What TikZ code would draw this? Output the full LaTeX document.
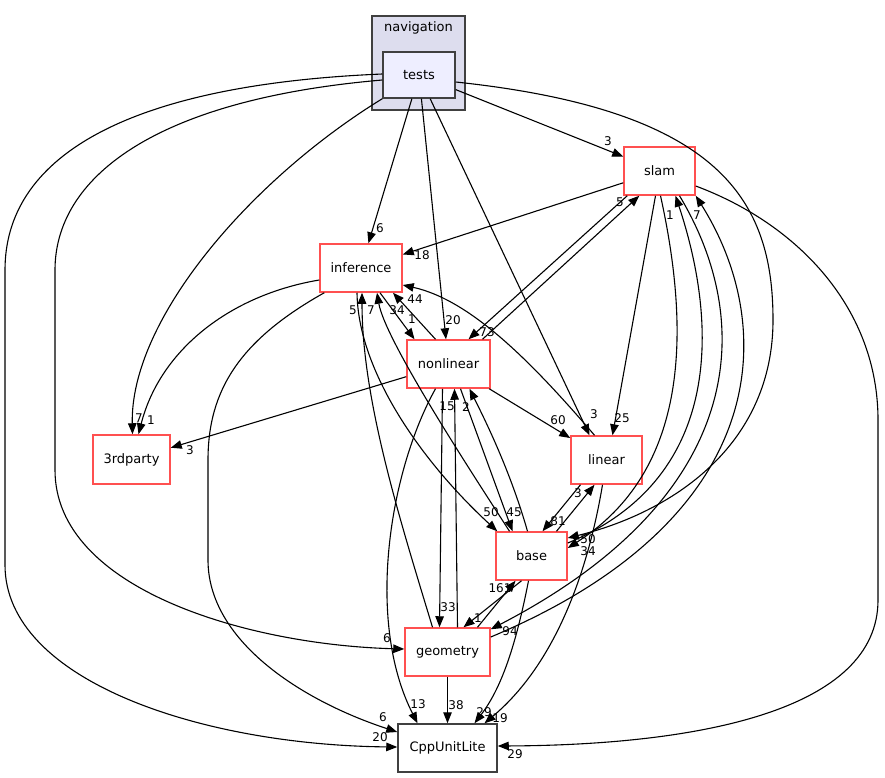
\documentclass[tikz,border=0pt]{standalone}
\usepackage{fontspec}
\setmainfont{DejaVu Sans}
\usetikzlibrary{arrows.meta}

\definecolor{dirred}{RGB}{255,80,80}
\definecolor{navfill}{RGB}{221,221,238}
\definecolor{testfill}{RGB}{238,238,255}
\definecolor{darkframe}{RGB}{64,64,64}

\tikzset{
  dirbox/.style={rectangle, draw=dirred, line width=1.5pt, fill=white, inner sep=0pt,
    minimum height=48pt, font=\fontsize{13}{15}\selectfont},
  plainbox/.style={dirbox, draw=darkframe},
  testbox/.style={dirbox, draw=darkframe, fill=testfill},
  clusterbox/.style={rectangle, draw=darkframe, line width=1.6pt, fill=navfill, inner sep=0pt},
  cnt/.style={inner sep=0pt, font=\fontsize{12}{14}\selectfont},
  dep/.style={-{Triangle[length=11pt,width=8.5pt]}, line width=1.1pt},
}

\begin{document}
\begin{tikzpicture}[x=1pt,y=-1pt]
      \useasboundingbox (0,0) rectangle (885,777);
      \node[clusterbox, minimum width=93pt, minimum height=94pt] (navigation) at (418.5,63) {};
      \node[font=\fontsize{13}{15}\selectfont] (navtitle) at (418.5,28) {navigation};
      \node[testbox, minimum width=72pt, minimum height=46pt] (tests) at (419,75) {tests};
      \node[dirbox, minimum width=71pt] (slam) at (659.5,171) {slam};
      \node[dirbox, minimum width=82pt] (inference) at (361,268) {inference};
      \node[dirbox, minimum width=83pt] (nonlinear) at (448.5,364) {nonlinear};
      \node[dirbox, minimum width=77pt, minimum height=49pt] (thirdparty) at (131.5,459.5) {3rdparty};
      \node[dirbox, minimum width=71pt] (linear) at (606.5,460) {linear};
      \node[dirbox, minimum width=71pt] (base) at (531.5,556) {base};
      \node[dirbox, minimum width=85pt] (geometry) at (447.5,652) {geometry};
      \node[plainbox, minimum width=99pt] (CppUnitLite) at (447.5,748) {CppUnitLite};
      \begin{scope}[dep]
        \draw (tests) -- (slam) node[cnt] (l-tests-slam) at (608,141) {3};
        \draw (tests) -- (inference) node[cnt] (l-tests-inference) at (380,228) {6};
        \draw (tests) -- (nonlinear) node[cnt] (l-tests-nonlinear) at (453,320) {20};
        \draw (tests) -- ([xshift=-17pt]linear.north) node[cnt] (l-tests-linear) at (594,414) {3};
        \draw (tests.south west) .. controls (250,180) and (130,320) .. ([xshift=1pt]thirdparty.north)
          node[cnt] (l-tests-thirdparty) at (139,418) {7};
        \draw ([yshift=-5pt]tests.west) .. controls (150,100) and (55,180) .. (55,270) -- (55,470)
          .. controls (55,590) and (250,645) .. ([yshift=3pt]geometry.west)
          node[cnt] (l-tests-geometry) at (387,638) {6};
        \draw ([yshift=1pt]tests.west) .. controls (120,85) and (5,160) .. (5,270) -- (5,565)
          .. controls (5,680) and (200,745) .. ([yshift=1pt]CppUnitLite.west)
          node[cnt] (l-tests-CppUnitLite) at (380,737) {20};
        \draw ([yshift=-7pt]tests.east) .. controls (720,110) and (773,200) .. (773,320)
          .. controls (773,440) and (680,510) .. ([yshift=18pt]base.east)
          node[cnt] (l-tests-base) at (588,539) {50};
        \draw (slam) -- (inference) node[cnt] (l-slam-inference) at (422,255) {18};
        \draw ([xshift=4pt]slam.south west) -- ([xshift=20pt]nonlinear.north)
          node[cnt] (l-slam-nonlinear) at (487,332) {73};
        \draw ([xshift=34pt]nonlinear.north) -- ([xshift=16pt]slam.south west)
          node[cnt] (l-nonlinear-slam) at (620,202) {5};
        \draw ([xshift=-4pt]slam.south) -- ([xshift=6pt]linear.north)
          node[cnt] (l-slam-linear) at (622,418) {25};
        \draw ([xshift=1pt]slam.south) .. controls (690,330) and (690,470) .. ([yshift=8pt]base.east)
          node[cnt] (l-slam-base) at (588,551) {34};
        \draw ([yshift=13pt]base.east) .. controls (720,480) and (720,330) .. ([xshift=16pt]slam.south)
          node[cnt] (l-base-slam) at (670,215) {1};
        \draw ([xshift=20pt]slam.south) .. controls (760,330) and (740,500) .. ([yshift=-2pt]geometry.north east)
          node[cnt] (l-slam-geometry) at (510,631) {94};
        \draw ([yshift=15pt]geometry.east) .. controls (770,520) and (780,330) .. (slam.south east)
          node[cnt] (l-geometry-slam) at (697,215) {7};
        \draw ([yshift=-15pt]slam.east) .. controls (800,225) and (878,310) .. (878,420) -- (878,600)
          .. controls (878,710) and (700,745) .. ([yshift=2pt]CppUnitLite.east)
          node[cnt] (l-slam-CppUnitLite) at (515,754) {29};
        \draw ([yshift=-12pt]inference.west) .. controls (230,295) and (160,350) .. ([xshift=7pt]thirdparty.north)
          node[cnt] (l-inference-thirdparty) at (151,420) {1};
        \draw ([xshift=5pt]inference.south west) .. controls (240,340) and (208,390) .. (208,460) -- (208,560)
          .. controls (208,640) and (300,700) .. ([yshift=16pt]CppUnitLite.west)
          node[cnt] (l-inference-CppUnitLite) at (383,717) {6};
        \draw ([xshift=19pt]inference.south) -- ([xshift=-34pt]nonlinear.north)
          node[cnt] (l-inference-nonlinear) at (412,319) {1};
        \draw ([xshift=-13pt]nonlinear.north) -- ([xshift=32pt]inference.south)
          node[cnt] (l-nonlinear-inference) at (397,310) {34};
        \draw ([xshift=-12pt]linear.north) .. controls (530,360) and (470,300) .. ([yshift=-17pt]inference.east)
          node[cnt] (l-linear-inference) at (415,299) {44};
        \draw ([xshift=-4pt]inference.south) .. controls (358,370) and (420,460) .. ([xshift=2pt]base.north west)
          node[cnt] (l-inference-base) at (491,512) {50};
        \draw ([xshift=-22pt]base.north) .. controls (470,470) and (385,340) .. ([xshift=16pt]inference.south)
          node[cnt] (l-base-inference) at (371,310) {7};
        \draw ([xshift=-15pt]geometry.north) .. controls (400,520) and (362,400) .. ([xshift=1pt]inference.south)
          node[cnt] (l-geometry-inference) at (353,310) {5};
        \draw (nonlinear) -- (thirdparty) node[cnt] (l-nonlinear-thirdparty) at (190,450) {3};
        \draw (nonlinear) -- (linear) node[cnt] (l-nonlinear-linear) at (558,420) {60};
        \draw ([xshift=-6pt]nonlinear.south) -- ([xshift=-8pt]geometry.north)
          node[cnt] (l-nonlinear-geometry) at (448,607) {33};
        \draw ([xshift=10pt]geometry.north) -- ([xshift=6pt]nonlinear.south)
          node[cnt] (l-geometry-nonlinear) at (447,406) {15};
        \draw ([xshift=12pt]nonlinear.south) -- ([xshift=-19pt]base.north)
          node[cnt] (l-nonlinear-base) at (514,512) {45};
        \draw ([xshift=-4pt]base.north) .. controls (510,470) and (485,420) .. ([xshift=21pt]nonlinear.south)
          node[cnt] (l-base-nonlinear) at (466,407) {2};
        \draw ([xshift=-13pt]nonlinear.south) .. controls (390,470) and (365,620) .. ([xshift=-30pt]CppUnitLite.north)
          node[cnt] (l-nonlinear-CppUnitLite) at (418,704) {13};
        \draw ([xshift=-26pt]linear.south) -- ([xshift=11pt]base.north)
          node[cnt] (l-linear-base) at (558,521) {81};
        \draw ([xshift=25pt]base.north) -- ([xshift=-12pt]linear.south)
          node[cnt] (l-base-linear) at (578,493) {3};
        \draw ([xshift=-4pt]linear.south) .. controls (590,560) and (560,660) .. ([xshift=37pt]CppUnitLite.north)
          node[cnt] (l-linear-CppUnitLite) at (500,718) {19};
        \draw ([xshift=-3pt]base.south) .. controls (515,650) and (500,690) .. ([xshift=27pt]CppUnitLite.north)
          node[cnt] (l-base-CppUnitLite) at (484,712) {29};
        \draw ([xshift=-10pt]base.south) -- ([xshift=16pt]geometry.north)
          node[cnt] (l-base-geometry) at (478,618) {1};
        \draw ([xshift=30pt]geometry.north) -- ([xshift=-16pt]base.south)
          node[cnt] (l-geometry-base) at (500,588) {161};
        \draw (geometry) -- (CppUnitLite) node[cnt] (l-geometry-CppUnitLite) at (456,705) {38};
      \end{scope}
    \end{tikzpicture}
\end{document}
